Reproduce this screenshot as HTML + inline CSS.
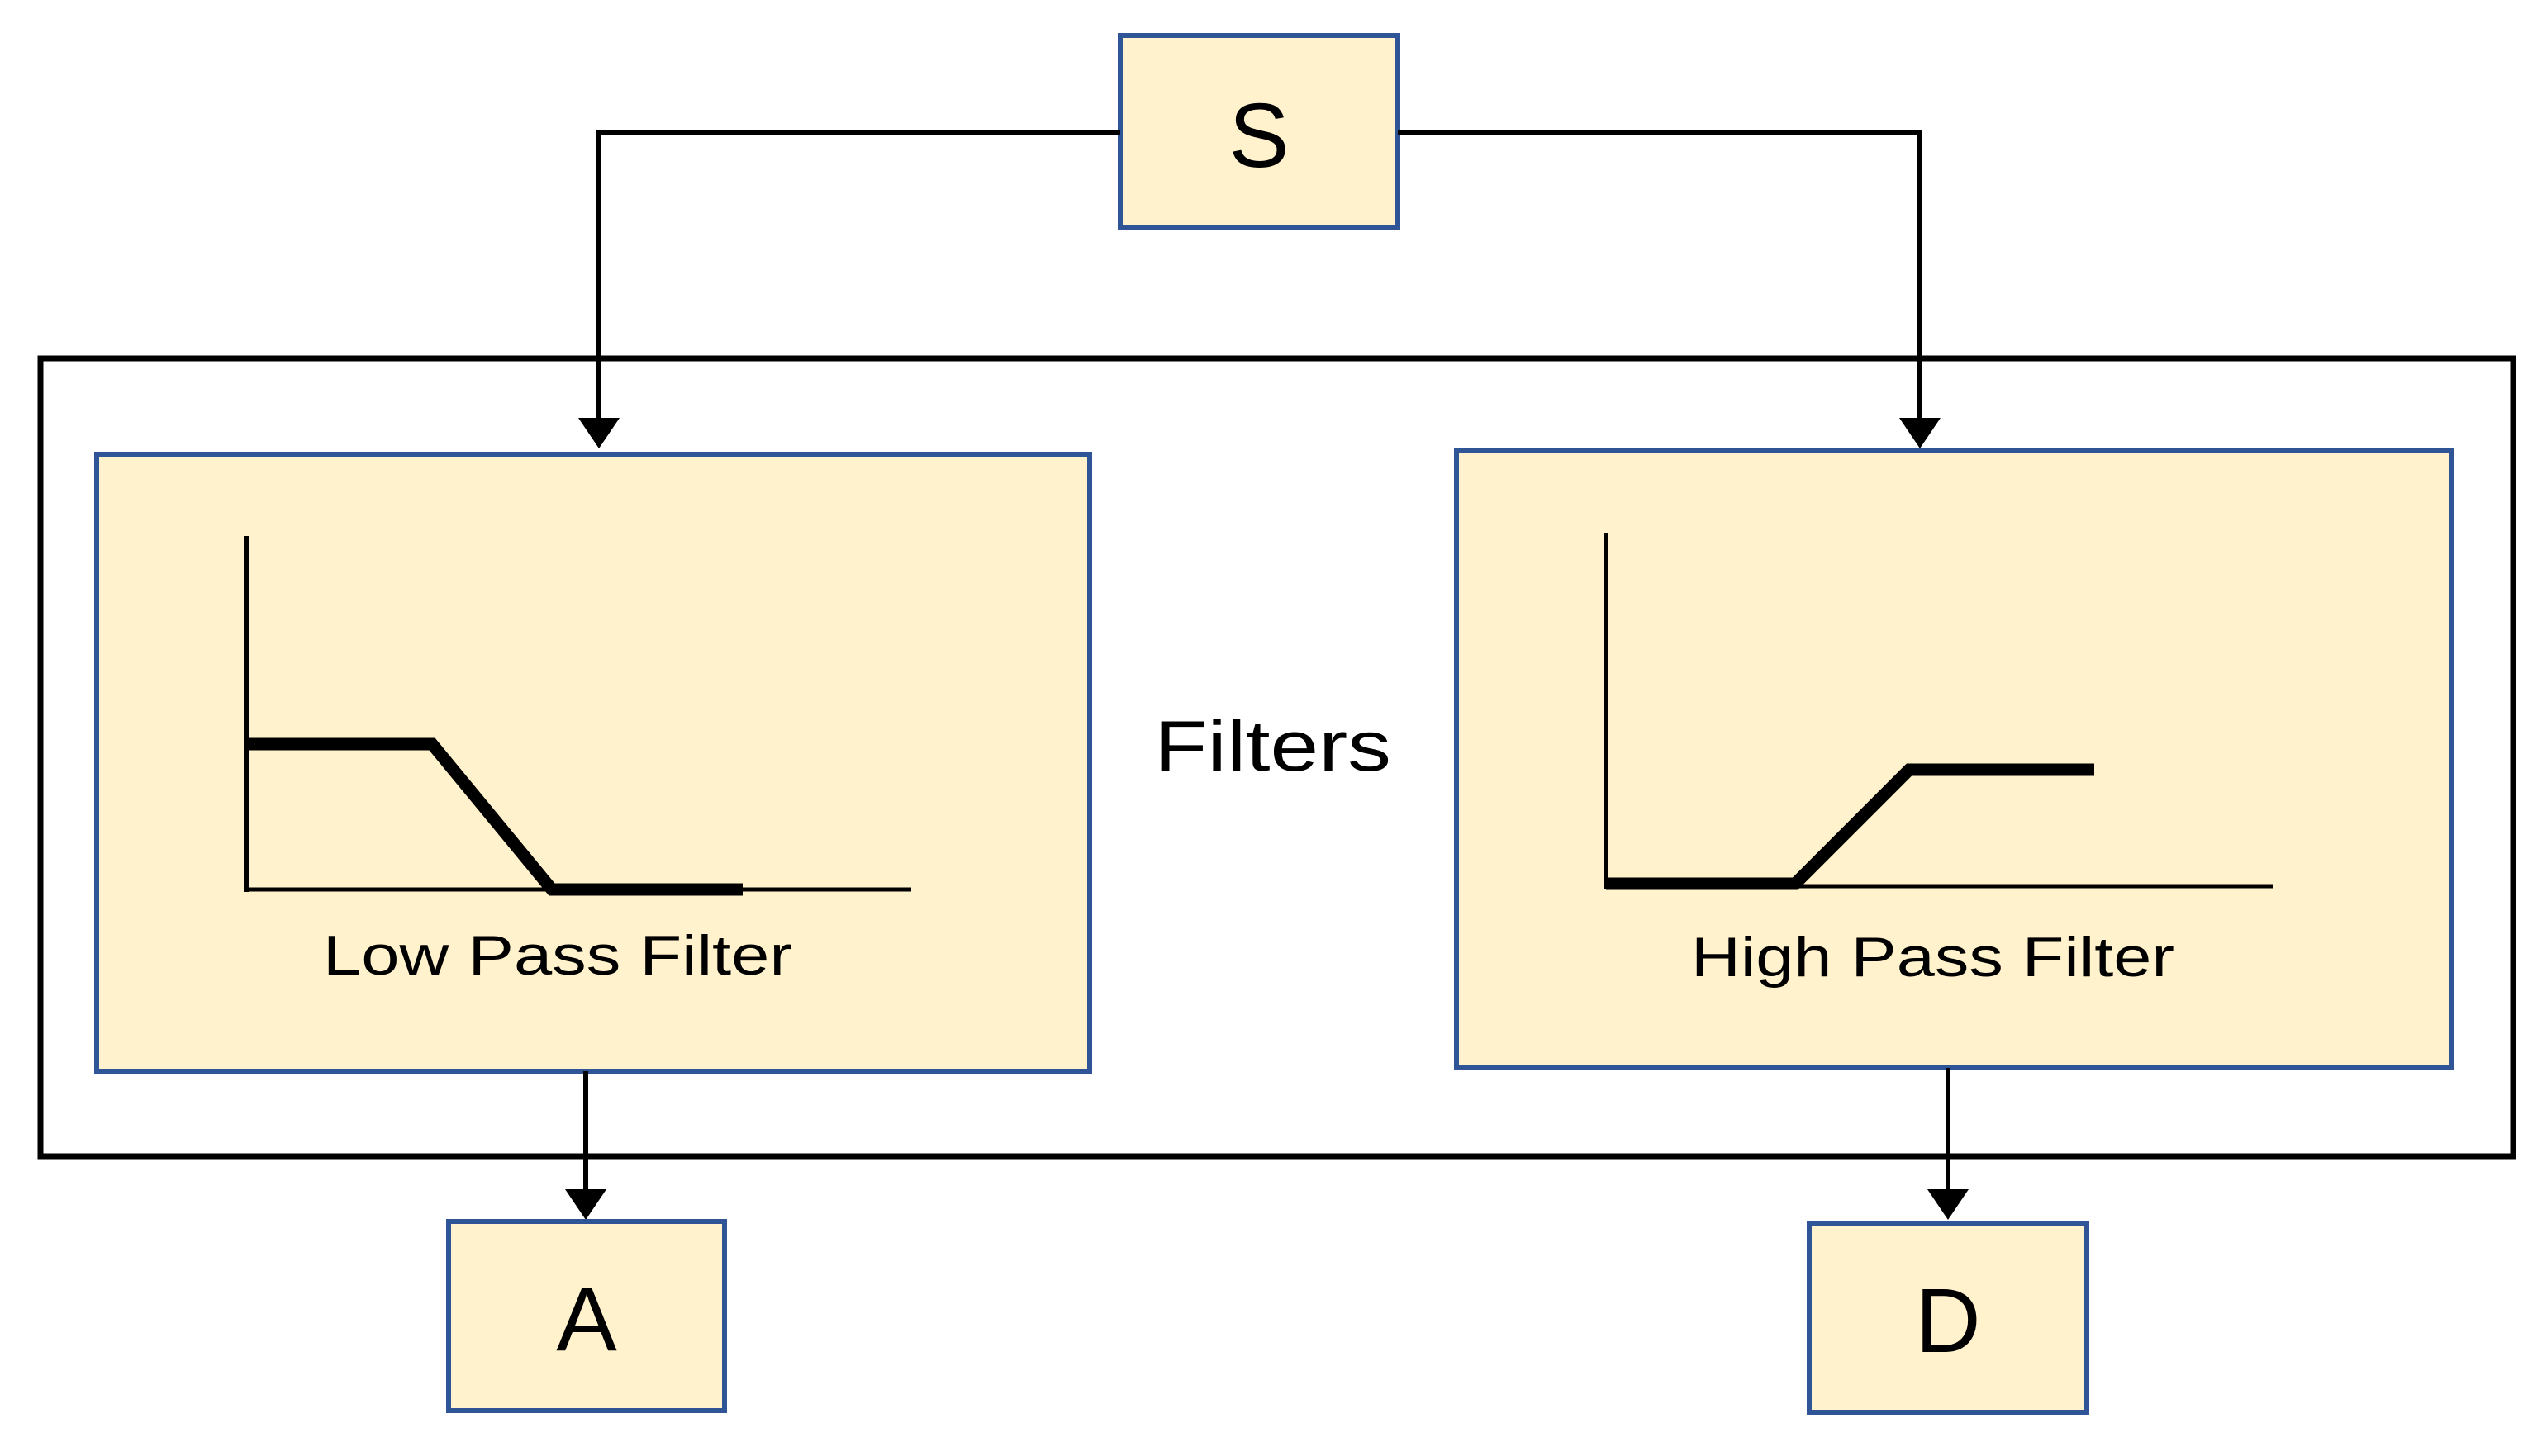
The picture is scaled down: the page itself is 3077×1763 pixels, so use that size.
<!DOCTYPE html>
<html><head><meta charset="utf-8"><style>html,body{margin:0;padding:0;background:#fff}svg{display:block}</style></head>
<body>
<svg width="3077" height="1763" viewBox="0 0 3077 1763" xmlns="http://www.w3.org/2000/svg">
<defs>
<marker id="ah" markerWidth="10" markerHeight="8" refX="9.5" refY="4" orient="auto" markerUnits="userSpaceOnUse" viewBox="0 0 10 8">
</marker>
</defs>
<!-- outer container -->
<rect x="49" y="434" width="2993" height="966" fill="none" stroke="#000" stroke-width="7"/>
<!-- S box -->
<rect x="1356" y="43" width="336" height="232" fill="#fff2cc" stroke="#2f5597" stroke-width="6"/>
<text x="1524" y="202" font-family="Liberation Sans, sans-serif" font-size="110" text-anchor="middle">S</text>
<!-- connectors from S -->
<polyline points="1356,161 725,161 725,510" fill="none" stroke="#000" stroke-width="6"/>
<polygon points="700,506 750,506 725,543" fill="#000"/>
<polyline points="1692,161 2324,161 2324,510" fill="none" stroke="#000" stroke-width="6"/>
<polygon points="2299,506 2349,506 2324,543" fill="#000"/>
<!-- LPF box -->
<rect x="117" y="550" width="1202" height="747" fill="#fff2cc" stroke="#2f5597" stroke-width="6"/>
<line x1="298" y1="649" x2="298" y2="1080" stroke="#000" stroke-width="6"/>
<line x1="295" y1="1077" x2="1103" y2="1077" stroke="#000" stroke-width="5"/>
<polyline points="298,901 523,901 668,1077 899,1077" fill="none" stroke="#000" stroke-width="15"/>
<text x="391" y="1180" font-family="Liberation Sans, sans-serif" font-size="68" textLength="568" lengthAdjust="spacingAndGlyphs">Low Pass Filter</text>
<!-- HPF box -->
<rect x="1763" y="546" width="1204" height="747" fill="#fff2cc" stroke="#2f5597" stroke-width="6"/>
<line x1="1944" y1="645" x2="1944" y2="1076" stroke="#000" stroke-width="6"/>
<line x1="1941" y1="1073" x2="2751" y2="1073" stroke="#000" stroke-width="5"/>
<polyline points="1944,1070 2173,1070 2311,932 2535,932" fill="none" stroke="#000" stroke-width="15"/>
<text x="2047" y="1182" font-family="Liberation Sans, sans-serif" font-size="68" textLength="585" lengthAdjust="spacingAndGlyphs">High Pass Filter</text>
<!-- Filters label -->
<text x="1397" y="933" font-family="Liberation Sans, sans-serif" font-size="86" textLength="287" lengthAdjust="spacingAndGlyphs">Filters</text>
<!-- arrows to A and D -->
<line x1="709" y1="1297" x2="709" y2="1445" stroke="#000" stroke-width="6"/>
<polygon points="684,1440 734,1440 709,1477" fill="#000"/>
<line x1="2358" y1="1293" x2="2358" y2="1445" stroke="#000" stroke-width="6"/>
<polygon points="2333,1440 2383,1440 2358,1477" fill="#000"/>
<!-- A box -->
<rect x="543" y="1479" width="334" height="229" fill="#fff2cc" stroke="#2f5597" stroke-width="6"/>
<text x="710" y="1635" font-family="Liberation Sans, sans-serif" font-size="110" text-anchor="middle">A</text>
<!-- D box -->
<rect x="2190" y="1481" width="336" height="229" fill="#fff2cc" stroke="#2f5597" stroke-width="6"/>
<text x="2358" y="1637" font-family="Liberation Sans, sans-serif" font-size="110" text-anchor="middle">D</text>
</svg>
</body></html>
